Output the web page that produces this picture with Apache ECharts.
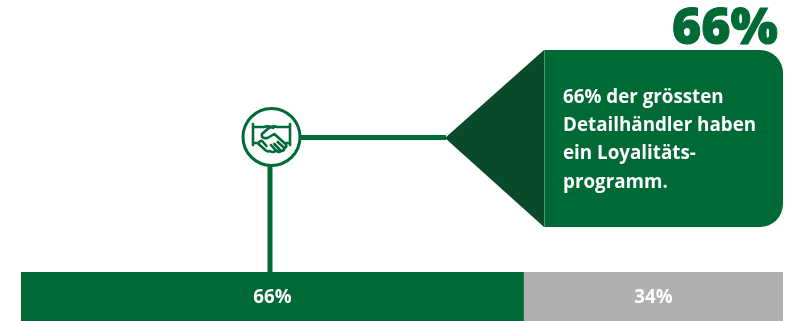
<!DOCTYPE html>
<html>
<head>
<meta charset="utf-8">
<style>html,body{margin:0;padding:0;background:#fff}#chart{width:796px;height:321px}</style>
<script src="https://cdn.jsdelivr.net/npm/echarts@6/dist/echarts.min.js"></script>
</head>
<body>
<div id="chart"></div>
<script>
// Share of the largest retailers with and without a loyalty programme
const shareLabels = ['Mit Programm', 'Ohne Programm'];
const shareValues = [66, 34];
const shareColors = ['#006a36', '#aeb0b1'];
const headline = '66%';
const calloutLines = ['66% der grössten', 'Detailhändler haben', 'ein Loyalitäts-', 'programm.'];

const GREEN = '#006a36';
const DARK = '#0a4a2a';
const font = '"Open Sans", "Noto Sans", sans-serif';

const chart = echarts.init(document.getElementById('chart'), null, { renderer: 'canvas' });

const barSeries = shareValues.map((v, i) => ({
  name: shareLabels[i],
  type: 'bar',
  stack: 'share',
  barWidth: 49,
  silent: true,
  data: [v],
  itemStyle: { color: shareColors[i] },
  label: {
    show: true,
    position: 'inside',
    formatter: '{c}%',
    color: '#fff',
    fontFamily: font,
    fontWeight: 700,
    fontSize: 18.7,
    offset: [0, 1]
  }
}));

const seg = (x1, y1, x2, y2, width, color) => ({
  type: 'line',
  shape: { x1, y1, x2, y2 },
  style: { stroke: color, lineWidth: width },
  silent: true
});

// Handshake pictogram, outlined inside the ring
const handshake = 'M2 0 L2 21 M35 0 L35 21 M2 3 L12 3 Q16 1 20 4 M35 3 L24 3 Q19 1 15 5 L10 10 Q9 15 15 14 L21 10 L31 20 Q33 23 30 24 L24 18 ' +
  'M30 24 Q30 27 27 27 L21 20 M27 27 Q25 29 22 26 L18 21 M22 27 Q20 29 17 27 M2 19 L6 19 L13 26 Q15 28 17 27 M7 19 Q9 15 11 18 L14 22 M35 19 L31 19';

const iconSeries = {
  type: 'custom',
  coordinateSystem: 'none',
  silent: true,
  z: 5,
  data: [0],
  renderItem: () => ({
    type: 'path',
    shape: { pathData: handshake, layout: 'cover', x: 253, y: 124, width: 37, height: 28 },
    style: { fill: 'none', stroke: GREEN, lineWidth: 2.6, lineCap: 'round', lineJoin: 'round' }
  })
};

const graphic = [
  seg(270, 165, 270, 272, 5, GREEN),
  seg(300, 137.5, 446, 137.5, 5, GREEN),
  {
    type: 'circle',
    shape: { cx: 271.5, cy: 137, r: 28.5 },
    style: { fill: '#fff', stroke: GREEN, lineWidth: 3 },
    silent: true
  },
  {
    type: 'polygon',
    shape: { points: [[445, 138], [544, 50], [544, 227]] },
    style: { fill: DARK },
    silent: true
  },
  {
    type: 'rect',
    shape: { x: 544, y: 50, width: 239, height: 177, r: [0, 23, 23, 0] },
    style: { fill: GREEN },
    silent: true
  },
  seg(544.5, 50, 544.5, 227, 1, '#4d9470'),
  {
    type: 'text',
    x: 778,
    y: 29.5,
    style: {
      text: headline,
      align: 'right',
      verticalAlign: 'middle',
      fill: GREEN,
      stroke: GREEN,
      lineWidth: 1,
      font: '800 50px ' + font
    },
    silent: true
  },
  {
    type: 'text',
    x: 563,
    y: 83,
    style: {
      text: calloutLines.join('\n'),
      align: 'left',
      verticalAlign: 'top',
      fill: '#fff',
      font: '700 18.8px ' + font,
      lineHeight: 28.4
    },
    silent: true
  }
];

chart.setOption({
  animation: false,
  backgroundColor: '#fff',
  grid: { left: 21, right: 13, top: 272, bottom: 0 },
  xAxis: { type: 'value', min: 0, max: 100, show: false },
  yAxis: { type: 'category', data: ['Anteil'], show: false },
  series: [...barSeries, iconSeries],
  graphic
});
</script>
</body>
</html>
